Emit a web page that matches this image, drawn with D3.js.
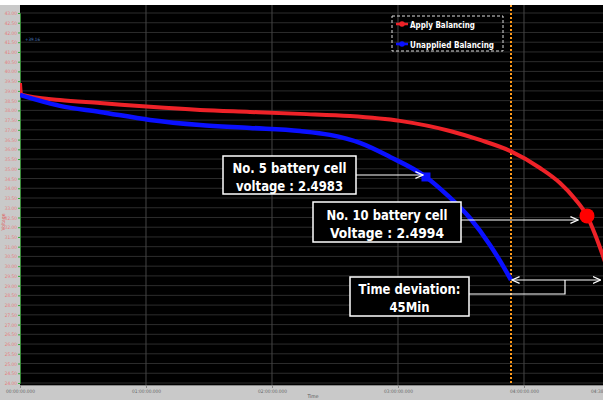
<!DOCTYPE html>
<html><head><meta charset="utf-8">
<script src="https://cdn.jsdelivr.net/npm/d3@7"></script>
<style>body{margin:0;background:#fff;overflow:hidden}</style></head>
<body><svg id="c" width="603" height="400"></svg>
<script>
// Data (hours, volts)
const appliedT = [0, 0.006, 0.012, 0.317, 0.635, 1.032, 1.429, 1.825, 2.222, 2.619, 3.016, 3.413, 3.651, 3.889, 4.127, 4.286, 4.405, 4.5, 4.563, 4.627, 4.66];
const appliedV = [39.4, 38.9, 38.8, 38.53, 38.38, 38.18, 38.02, 37.92, 37.82, 37.71, 37.46, 36.94, 36.48, 35.92, 35.04, 34.27, 33.45, 32.58, 31.65, 30.52, 29.9];
const unappliedT = [0, 0.317, 0.635, 1.032, 1.429, 1.825, 2.222, 2.46, 2.698, 2.937, 3.222, 3.389, 3.571, 3.73, 3.81, 3.897];
const unappliedV = [38.79, 38.23, 37.92, 37.51, 37.25, 37.10, 36.94, 36.74, 36.33, 35.61, 34.58, 33.66, 32.47, 31.09, 30.27, 29.29];
const yTicks = [24.0,24.5,25.0,25.5,26.0,26.5,27.0,27.5,28.0,28.5,29.0,29.5,30.0,30.5,31.0,31.5,32.0,32.5,33.0,33.5,34.0,34.5,35.0,35.5,36.0,36.5,37.0,37.5,38.0,38.5,39.0,39.5,40.0,40.5,41.0,41.5,42.0,42.5,43.0];
const xTicks = [0, 1, 2, 3, 4, 4.643];
const xTickLabels = ["00:00:00.000","01:00:00.000","02:00:00.000","03:00:00.000","04:00:00.000","04:38:35.000"];
const seriesNames = ["Apply Balancing", "Unapplied Balancing"];
const cell5 = {t: 3.222, v: 34.58, label: ["No. 5 battery cell", "voltage : 2.4983"]};
const cell10 = {t: 4.5, v: 32.58, label: ["No. 10 battery cell", "Voltage : 2.4994"]};
const deviation = {t0: 3.897, t1: 4.647, v: 29.29, label: ["Time deviation:", "45Min"]};

const svg = d3.select("#c");
const W = 603, H = 400;
const L = 20, T = 5, R = 605, B = 385;
const x = d3.scaleLinear().domain([0, 4.643]).range([L, R]);
const y = d3.scaleLinear().domain([24, 43]).range([383, 13]);
const font = "'DejaVu Sans Condensed','Liberation Sans Narrow',sans-serif";

// backgrounds
svg.append("rect").attr("width", W).attr("height", H).attr("fill", "#c9c9c9");
svg.append("rect").attr("width", W).attr("height", T).attr("fill", "#ffffff");
svg.append("rect").attr("x", L).attr("y", T).attr("width", W - L).attr("height", B - T).attr("fill", "#000");

// gridlines
svg.append("g").selectAll("line").data(yTicks).join("line")
  .attr("x1", L).attr("x2", W).attr("y1", d => y(d)).attr("y2", d => y(d))
  .attr("stroke", "#2c2c2c").attr("stroke-width", 1);
svg.append("g").selectAll("line").data(xTicks.slice(1, 5)).join("line")
  .attr("x1", d => x(d)).attr("x2", d => x(d)).attr("y1", T).attr("y2", B)
  .attr("stroke", "#444").attr("stroke-width", 1);

// y axis
const yAxis = d3.axisLeft(y).tickValues(yTicks).tickFormat(d3.format(".2f")).tickSize(2).tickPadding(1);
const gy = svg.append("g").attr("transform", `translate(${L},0)`).call(yAxis);
gy.select(".domain").attr("stroke", "#3a8a3a");
gy.selectAll(".tick line").attr("stroke", "#33aa33");
gy.selectAll(".tick text").attr("fill", "#e58080").attr("font-size", 4.8).attr("font-family", font);

// x axis
const xAxis = d3.axisBottom(x).tickValues(xTicks).tickFormat((d, i) => xTickLabels[i]).tickSize(3).tickPadding(2);
const gx = svg.append("g").attr("transform", `translate(0,${B})`).call(xAxis);
gx.select(".domain").attr("stroke", "#888");
gx.selectAll(".tick line").attr("stroke", "#888");
gx.selectAll(".tick text").attr("fill", "#666").attr("font-size", 4.8).attr("font-family", font);

// axis titles
svg.append("text").attr("x", 313).attr("y", 398).attr("text-anchor", "middle")
  .attr("font-size", 5).attr("fill", "#555").attr("font-family", font).text("Time");
svg.append("text").attr("transform", "translate(5,222) rotate(-90)").attr("text-anchor", "middle")
  .attr("font-size", 5).attr("fill", "#e06060").attr("font-family", font).text("Voltage");
svg.append("text").attr("x", 25).attr("y", 41).attr("font-size", 4.5).attr("fill", "#4d7fc0")
  .attr("font-family", font).text("+39.16");

// clip
svg.append("clipPath").attr("id", "pc").append("rect").attr("x", L).attr("y", T).attr("width", W - L).attr("height", B - T);
const plot = svg.append("g").attr("clip-path", "url(#pc)");

// orange dotted line
plot.append("line").attr("x1", x(deviation.t0)).attr("x2", x(deviation.t0)).attr("y1", T).attr("y2", B)
  .attr("stroke", "#ff9a1a").attr("stroke-width", 2).attr("stroke-dasharray", "2,2");

const line = d3.line().x(d => x(d[0])).y(d => y(d[1])).curve(d3.curveMonotoneX);
const appliedData = appliedT.map((t, i) => [t, appliedV[i]]);
const unappliedData = unappliedT.map((t, i) => [t, unappliedV[i]]);
plot.append("path").datum(appliedData).attr("d", line).attr("fill", "none")
  .attr("stroke", "#ee2228").attr("stroke-width", 4).attr("stroke-linejoin", "round");
plot.append("path").datum(unappliedData).attr("d", line).attr("fill", "none")
  .attr("stroke", "#0a10ff").attr("stroke-width", 4.5).attr("stroke-linejoin", "round");

// legend
const lg = svg.append("g");
lg.append("rect").attr("x", 392).attr("y", 16).attr("width", 111).attr("height", 35)
  .attr("fill", "none").attr("stroke", "#ddd").attr("stroke-width", 1).attr("stroke-dasharray", "3,2");
const legendW = [65, 84];
[["#ee2228", 24], ["#0a10ff", 44]].forEach(([c, yy], i) => {
  lg.append("line").attr("x1", 396).attr("x2", 408).attr("y1", yy).attr("y2", yy).attr("stroke", c).attr("stroke-width", 2.5);
  lg.append("circle").attr("cx", 402).attr("cy", yy).attr("r", 2.8).attr("fill", c);
  lg.append("text").attr("x", 410).attr("y", yy + 3.5).attr("fill", "#fff").attr("font-size", 9.5)
    .attr("font-family", font).attr("font-weight", "bold")
    .attr("textLength", legendW[i]).attr("lengthAdjust", "spacingAndGlyphs").text(seriesNames[i]);
});

// markers
svg.append("rect").attr("x", x(cell5.t) - 4.5).attr("y", y(cell5.v) - 4.5).attr("width", 9).attr("height", 9).attr("fill", "#0a10ff");
svg.append("circle").attr("cx", x(cell10.t)).attr("cy", y(cell10.v)).attr("r", 7.5).attr("fill", "#ff0000");

// arrowhead
const defs = svg.append("defs");
defs.append("marker").attr("id", "ah").attr("viewBox", "0 0 10 10").attr("refX", 9).attr("refY", 5)
  .attr("markerWidth", 7).attr("markerHeight", 7).attr("orient", "auto-start-reverse")
  .append("path").attr("d", "M0,1 L9,5 L0,9").attr("fill", "none").attr("stroke", "#fff").attr("stroke-width", 1.5);

function box(x0, y0, w, h, lines, dy, widths) {
  svg.append("rect").attr("x", x0).attr("y", y0).attr("width", w).attr("height", h)
    .attr("fill", "#000").attr("stroke", "#fff").attr("stroke-width", 1.5);
  lines.forEach((s, i) => {
    svg.append("text").attr("x", x0 + w / 2).attr("y", y0 + dy + i * 18).attr("text-anchor", "middle")
      .attr("fill", "#fff").attr("font-size", 14.5).attr("font-weight", "bold").attr("font-family", font)
      .attr("textLength", widths[i]).attr("lengthAdjust", "spacingAndGlyphs").text(s);
  });
}

// annotation 1
svg.append("line").attr("x1", 356).attr("y1", 175).attr("x2", x(cell5.t) - 3).attr("y2", 175)
  .attr("stroke", "#fff").attr("stroke-width", 1.2).attr("marker-end", "url(#ah)");
box(223, 156, 133, 38, cell5.label, 17, [114, 107]);

// annotation 2
svg.append("line").attr("x1", 461).attr("y1", 220).attr("x2", x(cell10.t) - 9).attr("y2", 220)
  .attr("stroke", "#fff").attr("stroke-width", 1.2).attr("marker-end", "url(#ah)");
box(313, 202, 148, 40, cell10.label, 18, [121, 114]);

// annotation 3
const ya = y(deviation.v);
svg.append("line").attr("x1", x(deviation.t0) + 1).attr("y1", ya).attr("x2", x(deviation.t1) - 5).attr("y2", ya)
  .attr("stroke", "#fff").attr("stroke-width", 1.2)
  .attr("marker-start", "url(#ah)").attr("marker-end", "url(#ah)");
svg.append("path").attr("d", `M469,294 H565 V${ya}`).attr("fill", "none").attr("stroke", "#fff").attr("stroke-width", 1.2);
box(350, 277, 119, 39, deviation.label, 17, [102, 40]);
</script></body></html>
